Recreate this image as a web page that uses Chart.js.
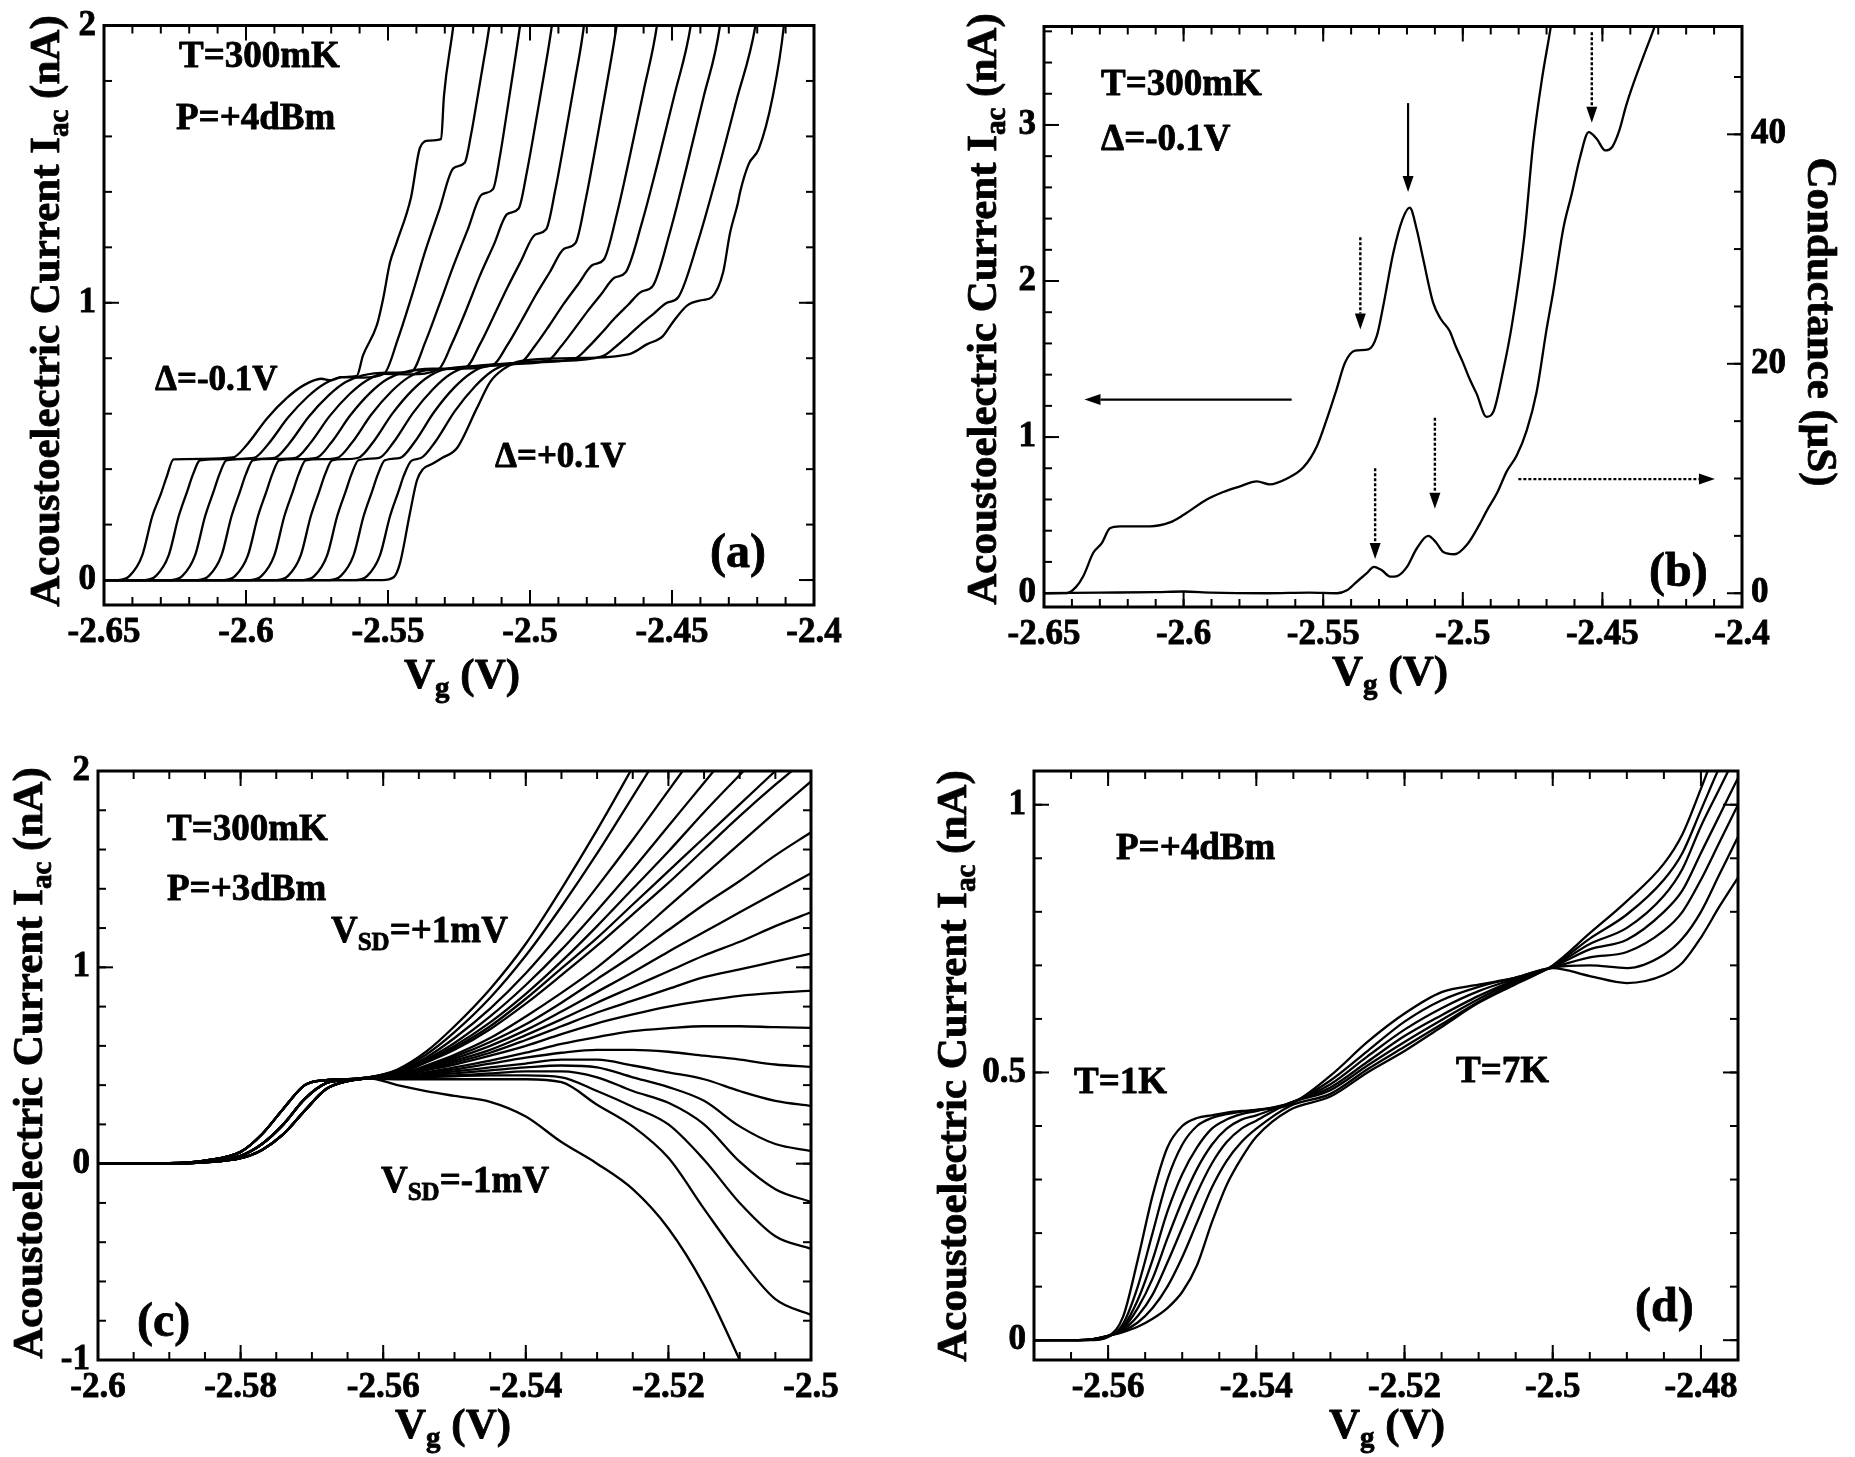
<!DOCTYPE html>
<html><head><meta charset="utf-8">
<script src="https://cdn.jsdelivr.net/npm/chart.js@4/dist/chart.umd.min.js"></script>
<style>
html,body{margin:0;padding:0;background:#fff;}
body{width:1855px;height:1457px;position:relative;overflow:hidden;}
canvas{position:absolute;}
</style></head><body>
<canvas id="ca" width="928" height="728" style="left:0px;top:0px"></canvas>
<canvas id="cb" width="927" height="728" style="left:928px;top:0px"></canvas>
<canvas id="cc" width="928" height="729" style="left:0px;top:728px"></canvas>
<canvas id="cd" width="927" height="729" style="left:928px;top:728px"></canvas>
<script>
// ================= DATA =================
// ---- Panel (a): I_ac vs Vg, 11 curves, Delta = -0.1 V ... +0.1 V
const a_d0 = [[-2.65,0],[-2.645,0],[-2.641,0.015],[-2.6365,0.09],[-2.633,0.23],[-2.630,0.31],[-2.628,0.37],[-2.6255,0.435],[-2.615,0.437],[-2.6046,0.442],[-2.5996,0.489],[-2.5926,0.583],[-2.5856,0.657],[-2.5796,0.703],[-2.5736,0.726],[-2.570,0.720],[-2.5665,0.732],[-2.561,0.736],[-2.5588,0.81],[-2.5539,0.92],[-2.5518,1.01],[-2.5493,1.145],[-2.547,1.216],[-2.5419,1.38],[-2.5387,1.56],[-2.5356,1.585],[-2.5313,1.59],[-2.5303,1.745],[-2.527,2.0],[-2.525,2.2]];
const a_d1 = [[-2.65,0],[-2.6357,0],[-2.6317,0.015],[-2.6272,0.09],[-2.6237,0.23],[-2.6207,0.32],[-2.6187,0.38],[-2.6162,0.432],[-2.607,0.436],[-2.5972,0.441],[-2.5922,0.490],[-2.5852,0.586],[-2.5782,0.662],[-2.5722,0.709],[-2.5662,0.732],[-2.559,0.730],[-2.5514,0.744],[-2.5465,0.870],[-2.5416,1.026],[-2.5368,1.189],[-2.5319,1.337],[-2.527,1.485],[-2.523,1.505],[-2.5208,1.604],[-2.5187,1.728],[-2.5165,1.861],[-2.5143,2.0],[-2.512,2.2]];
const a_d2 = [[-2.65,0],[-2.6264,0],[-2.6224,0.015],[-2.6179,0.09],[-2.6144,0.23],[-2.6114,0.32],[-2.6094,0.38],[-2.6069,0.432],[-2.598,0.437],[-2.5899,0.441],[-2.5849,0.491],[-2.5779,0.589],[-2.5709,0.666],[-2.5649,0.714],[-2.5589,0.738],[-2.550,0.748],[-2.5418,0.752],[-2.5368,0.860],[-2.5319,0.994],[-2.5269,1.135],[-2.522,1.262],[-2.517,1.39],[-2.513,1.41],[-2.5106,1.528],[-2.5083,1.676],[-2.5059,1.835],[-2.5035,2.0],[-2.501,2.2]];
const a_d3 = [[-2.65,0],[-2.6171,0],[-2.6131,0.015],[-2.6086,0.09],[-2.6051,0.23],[-2.6021,0.32],[-2.6001,0.38],[-2.5976,0.432],[-2.590,0.437],[-2.5825,0.441],[-2.5775,0.492],[-2.5705,0.592],[-2.5635,0.671],[-2.5575,0.720],[-2.5515,0.744],[-2.542,0.742],[-2.5322,0.760],[-2.5274,0.855],[-2.5225,0.973],[-2.5177,1.096],[-2.5128,1.208],[-2.508,1.32],[-2.504,1.34],[-2.5011,1.472],[-2.4982,1.637],[-2.4952,1.815],[-2.4923,2.0],[-2.490,2.2]];
const a_d4 = [[-2.65,0],[-2.6078,0],[-2.6038,0.015],[-2.5993,0.09],[-2.5958,0.23],[-2.5928,0.32],[-2.5908,0.38],[-2.5883,0.432],[-2.582,0.436],[-2.5752,0.441],[-2.5702,0.493],[-2.5632,0.595],[-2.5562,0.676],[-2.5502,0.725],[-2.5442,0.750],[-2.534,0.762],[-2.5226,0.768],[-2.5177,0.849],[-2.5129,0.949],[-2.508,1.054],[-2.5032,1.150],[-2.4983,1.245],[-2.4943,1.265],[-2.491,1.412],[-2.4877,1.596],[-2.4843,1.794],[-2.481,2.0],[-2.479,2.2]];
const a_d5 = [[-2.65,0],[-2.5985,0],[-2.5945,0.015],[-2.590,0.09],[-2.5865,0.23],[-2.5835,0.32],[-2.5815,0.38],[-2.579,0.432],[-2.573,0.436],[-2.5678,0.441],[-2.5628,0.494],[-2.5558,0.598],[-2.5488,0.680],[-2.5428,0.731],[-2.5368,0.756],[-2.525,0.762],[-2.513,0.776],[-2.508,0.847],[-2.503,0.935],[-2.498,1.027],[-2.493,1.111],[-2.488,1.195],[-2.484,1.215],[-2.4804,1.372],[-2.4768,1.568],[-2.4731,1.780],[-2.4695,2.0],[-2.467,2.2]];
const a_d6 = [[-2.65,0],[-2.5892,0],[-2.5852,0.015],[-2.5807,0.09],[-2.5772,0.23],[-2.5742,0.32],[-2.5722,0.38],[-2.5697,0.432],[-2.565,0.436],[-2.5604,0.441],[-2.5554,0.495],[-2.5484,0.601],[-2.5414,0.685],[-2.5354,0.736],[-2.5294,0.762],[-2.516,0.772],[-2.5034,0.784],[-2.4983,0.844],[-2.4932,0.918],[-2.4882,0.995],[-2.4831,1.066],[-2.478,1.136],[-2.474,1.156],[-2.4693,1.325],[-2.4647,1.536],[-2.46,1.764],[-2.4553,2.0],[-2.453,2.2]];
const a_d7 = [[-2.65,0],[-2.5799,0],[-2.5759,0.015],[-2.5714,0.09],[-2.5679,0.23],[-2.5649,0.32],[-2.5629,0.38],[-2.5604,0.432],[-2.5531,0.441],[-2.5481,0.496],[-2.5411,0.604],[-2.5341,0.689],[-2.5281,0.742],[-2.5221,0.768],[-2.508,0.778],[-2.4938,0.791],[-2.4891,0.842],[-2.4844,0.905],[-2.4797,0.970],[-2.475,1.030],[-2.4703,1.09],[-2.4663,1.11],[-2.4606,1.288],[-2.4549,1.51],[-2.4491,1.751],[-2.4434,2.0],[-2.441,2.2]];
const a_d8 = [[-2.65,0],[-2.5706,0],[-2.5666,0.015],[-2.5621,0.09],[-2.5586,0.23],[-2.5556,0.32],[-2.5536,0.38],[-2.5511,0.432],[-2.5457,0.441],[-2.5407,0.497],[-2.5337,0.607],[-2.5267,0.694],[-2.5207,0.747],[-2.5147,0.774],[-2.500,0.784],[-2.4842,0.799],[-2.4795,0.840],[-2.4748,0.891],[-2.4702,0.944],[-2.4655,0.992],[-2.4608,1.04],[-2.4568,1.06],[-2.4509,1.248],[-2.445,1.483],[-2.439,1.737],[-2.4331,2.0],[-2.431,2.2]];
const a_d9 = [[-2.65,0],[-2.5613,0],[-2.5573,0.015],[-2.5528,0.09],[-2.5493,0.23],[-2.5463,0.32],[-2.5443,0.38],[-2.5418,0.43],[-2.5384,0.44],[-2.5334,0.498],[-2.5264,0.610],[-2.5194,0.698],[-2.5134,0.753],[-2.5074,0.780],[-2.491,0.790],[-2.4746,0.807],[-2.470,0.840],[-2.4655,0.880],[-2.4609,0.923],[-2.4564,0.961],[-2.4518,1.0],[-2.4478,1.02],[-2.441,1.216],[-2.4342,1.461],[-2.4274,1.726],[-2.4206,2.0],[-2.418,2.2]];
const a_d10 = [[-2.65,0],[-2.552,0],[-2.548,0.01],[-2.5458,0.06],[-2.5423,0.24],[-2.5398,0.36],[-2.5377,0.40],[-2.5342,0.42],[-2.531,0.44],[-2.5257,0.476],[-2.5187,0.62],[-2.514,0.715],[-2.5095,0.76],[-2.503,0.79],[-2.485,0.80],[-2.465,0.815],[-2.4589,0.85],[-2.4532,0.88],[-2.4497,0.93],[-2.4447,0.99],[-2.4391,1.01],[-2.436,1.02],[-2.432,1.11],[-2.4296,1.25],[-2.4268,1.36],[-2.426,1.40],[-2.423,1.50],[-2.4194,1.556],[-2.4146,1.74],[-2.4106,2.0],[-2.409,2.2]];
const panelA_curves = [a_d0,a_d1,a_d2,a_d3,a_d4,a_d5,a_d6,a_d7,a_d8,a_d9,a_d10];
const panelA_xTicks = [-2.65,-2.6,-2.55,-2.5,-2.45,-2.4];
const panelA_yTicks = [0,1,2];

// ---- Panel (b): acoustoelectric current (nA, left axis) and conductance (uS, right axis)
const b_current = [[-2.65,0.0],[-2.6419,0.0],[-2.6385,0.04],[-2.6359,0.11],[-2.6323,0.26],[-2.6293,0.32],[-2.6264,0.416],[-2.6228,0.428],[-2.612,0.428],[-2.6049,0.453],[-2.6001,0.50],[-2.5917,0.60],[-2.5858,0.648],[-2.5798,0.684],[-2.5738,0.716],[-2.5691,0.697],[-2.5631,0.733],[-2.5571,0.806],[-2.5523,0.94],[-2.5488,1.11],[-2.5452,1.306],[-2.5422,1.476],[-2.5386,1.554],[-2.5338,1.562],[-2.5308,1.648],[-2.5285,1.84],[-2.5249,2.18],[-2.5215,2.40],[-2.519,2.47],[-2.5165,2.33],[-2.5143,2.15],[-2.5106,1.86],[-2.508,1.76],[-2.5047,1.68],[-2.5025,1.58],[-2.5,1.48],[-2.4975,1.37],[-2.4951,1.28],[-2.4915,1.13],[-2.4891,1.16],[-2.4856,1.42],[-2.4823,1.73],[-2.478,2.28],[-2.4748,2.88],[-2.4716,3.3],[-2.4684,3.64],[-2.466,3.95]];
const b_conductance = [[-2.65,0.0],[-2.63,0.05],[-2.61,0.1],[-2.6,0.15],[-2.59,0.05],[-2.57,0.0],[-2.555,0.05],[-2.545,0.0],[-2.5415,0.25],[-2.538,1.0],[-2.5346,1.7],[-2.5318,2.3],[-2.529,2.0],[-2.526,1.45],[-2.5235,1.5],[-2.52,2.3],[-2.5165,3.9],[-2.5124,5.0],[-2.5095,4.4],[-2.507,3.6],[-2.503,3.4],[-2.4983,4.3],[-2.494,6.0],[-2.4914,7.2],[-2.4876,8.8],[-2.4843,10.6],[-2.4807,12.0],[-2.4771,14.2],[-2.4736,17.5],[-2.47,23.0],[-2.4676,26.3],[-2.464,31.8],[-2.461,34.8],[-2.458,38.0],[-2.4549,40.2],[-2.452,39.6],[-2.449,38.6],[-2.4465,38.9],[-2.444,40.3],[-2.4415,42.5],[-2.4395,44.0],[-2.4353,46.8],[-2.431,49.6],[-2.428,52]];
const panelB_yTicks = [0,1,2,3];
const panelB_y2Ticks = [0,20,40];
// arrows: [x0, y0, x1, y1, dotted]  (first set in nA, second set in uS)
const panelB_arrowsCurrent = [[-2.5613,1.24,-2.6355,1.24,0],[-2.5196,3.14,-2.5196,2.57,0],[-2.5367,2.28,-2.5367,1.69,1]];
const panelB_arrowsCond = [[-2.4801,9.95,-2.4097,9.95,1],[-2.4538,48.9,-2.4538,41.0,1],[-2.51,15.3,-2.51,7.36,1],[-2.5314,10.9,-2.5314,2.98,1]];

// ---- Panel (c): 21 curves, V_SD = +1 mV ... -1 mV
const panelC_x = [-2.6,-2.59,-2.585,-2.58,-2.577,-2.574,-2.571,-2.568,-2.565,-2.562,-2.558,-2.554,-2.55,-2.545,-2.54,-2.535,-2.53,-2.525,-2.52,-2.515,-2.51,-2.505,-2.5];
const c_v0  = [0,0.002,0.015,0.06,0.15,0.28,0.40,0.425,0.43,0.44, 0.48,0.57,0.70,0.89,1.12,1.40,1.70,2.02,2.35,2.7,3.0,3.3,3.6];
const c_v1  = [0,0.002,0.015,0.06,0.15,0.28,0.40,0.425,0.43,0.44, 0.475,0.555,0.67,0.845,1.06,1.31,1.58,1.87,2.16,2.45,2.75,3.0,3.3];
const c_v2  = [0,0.002,0.015,0.06,0.15,0.28,0.40,0.425,0.43,0.44, 0.47,0.54,0.64,0.79,0.97,1.18,1.41,1.65,1.90,2.15,2.4,2.65,2.9];
const c_v3  = [0,0.002,0.015,0.06,0.15,0.28,0.40,0.425,0.43,0.44, 0.46,0.53,0.615,0.75,0.91,1.09,1.29,1.50,1.72,1.94,2.16,2.37,2.58];
const c_v4  = [0,0.002,0.015,0.06,0.15,0.28,0.40,0.425,0.43,0.44, 0.46,0.525,0.60,0.72,0.865,1.03,1.21,1.40,1.59,1.79,1.98,2.17,2.36];
const c_v5  = [0,0.002,0.015,0.06,0.15,0.28,0.40,0.425,0.43,0.44, 0.455,0.52,0.59,0.70,0.84,0.995,1.15,1.32,1.49,1.66,1.83,2.0,2.17];
const c_v6  = [0,0.002,0.015,0.06,0.15,0.28,0.40,0.425,0.43,0.44, 0.455,0.515,0.58,0.685,0.815,0.96,1.11,1.27,1.43,1.60,1.77,1.93,2.08];
const c_v7  = [0,0.001,0.01,0.04,0.10,0.20,0.33,0.41,0.425,0.435, 0.45,0.50,0.555,0.64,0.75,0.87,1.00,1.15,1.31,1.47,1.63,1.79,1.947];
const c_v8  = [0,0.001,0.01,0.04,0.10,0.20,0.33,0.41,0.425,0.435, 0.45,0.495,0.545,0.62,0.71,0.82,0.94,1.06,1.19,1.32,1.44,1.57,1.688];
const c_v9  = [0,0.001,0.01,0.04,0.10,0.20,0.33,0.41,0.425,0.435, 0.45,0.49,0.535,0.60,0.68,0.775,0.875,0.975,1.08,1.18,1.28,1.38,1.479];
const c_v10 = [0,0.001,0.01,0.04,0.10,0.20,0.33,0.41,0.425,0.435, 0.445,0.485,0.525,0.58,0.655,0.735,0.82,0.90,0.98,1.06,1.13,1.21,1.28];
const c_v11 = [0,0.001,0.01,0.04,0.10,0.20,0.33,0.41,0.425,0.435, 0.445,0.48,0.515,0.565,0.63,0.70,0.77,0.83,0.89,0.95,0.99,1.03,1.07];
const c_v12 = [0,0.001,0.01,0.04,0.10,0.20,0.33,0.41,0.425,0.435, 0.445,0.475,0.505,0.55,0.60,0.66,0.715,0.76,0.80,0.83,0.855,0.87,0.881];
const c_v13 = [0,0.001,0.01,0.04,0.10,0.20,0.33,0.41,0.425,0.435, 0.44,0.465,0.49,0.525,0.565,0.61,0.645,0.675,0.69,0.70,0.70,0.695,0.692];
const c_v14 = [0,0,0.007,0.028,0.07,0.15,0.27,0.38,0.42,0.435, 0.44,0.46,0.48,0.51,0.54,0.565,0.58,0.58,0.57,0.55,0.53,0.505,0.493];
const c_v15 = [0,0,0.007,0.028,0.07,0.15,0.27,0.38,0.42,0.435, 0.44,0.455,0.47,0.49,0.51,0.53,0.53,0.50,0.465,0.43,0.37,0.32,0.294];
const c_v16 = [0,0,0.007,0.028,0.07,0.15,0.27,0.38,0.42,0.435, 0.44,0.45,0.46,0.475,0.49,0.50,0.49,0.44,0.39,0.32,0.19,0.10,0.065];
const c_v17 = [0,0,0.007,0.028,0.07,0.15,0.27,0.38,0.42,0.435, 0.44,0.445,0.45,0.46,0.47,0.47,0.44,0.37,0.31,0.20,0.01,-0.13,-0.195];
const c_v18 = [0,0,0.007,0.028,0.07,0.15,0.27,0.38,0.42,0.435, 0.435,0.44,0.445,0.45,0.45,0.44,0.37,0.29,0.20,0.02,-0.20,-0.37,-0.434];
const c_v19 = [0,0,0.007,0.028,0.07,0.15,0.27,0.38,0.42,0.435, 0.43,0.43,0.43,0.43,0.43,0.415,0.30,0.19,0.03,-0.23,-0.48,-0.69,-0.77];
const c_v20 = [0,0,0.007,0.028,0.07,0.15,0.27,0.38,0.42,0.435, 0.40,0.37,0.345,0.315,0.24,0.11,0.0,-0.13,-0.33,-0.62,-1.0,-1.4,-1.8];
const panelC_curves = [c_v0,c_v1,c_v2,c_v3,c_v4,c_v5,c_v6,c_v7,c_v8,c_v9,c_v10,c_v11,c_v12,c_v13,c_v14,c_v15,c_v16,c_v17,c_v18,c_v19,c_v20];
const panelC_xTicks = [-2.6,-2.58,-2.56,-2.54,-2.52,-2.5];
const panelC_yTicks = [-1,0,1,2];

// ---- Panel (d): 7 curves, T = 1 K ... 7 K
const panelD_x = [-2.57,-2.564,-2.562,-2.56,-2.558,-2.556,-2.554,-2.552,-2.55,-2.548,-2.546,-2.544,-2.542,-2.54,-2.5355,-2.53,-2.525,-2.52,-2.515,-2.51,-2.505,-2.5,-2.495,-2.49,-2.485,-2.4825,-2.48,-2.4775,-2.475];
const d_T1 = [0,0,0,0.007,0.043,0.15,0.27,0.36,0.40,0.415,0.42,0.425,0.428,0.43,0.44,0.494,0.557,0.61,0.65,0.664,0.677,0.695,0.68,0.667,0.682,0.705,0.752,0.81,0.864];
const d_T2 = [0,0,0.001,0.006,0.03,0.10,0.20,0.30,0.365,0.40,0.415,0.422,0.427,0.43,0.442,0.485,0.54,0.595,0.635,0.66,0.677,0.696,0.70,0.695,0.72,0.75,0.80,0.87,0.94];
const d_T3 = [0,0,0.002,0.007,0.025,0.075,0.15,0.24,0.31,0.36,0.395,0.412,0.422,0.428,0.443,0.478,0.53,0.58,0.62,0.652,0.675,0.696,0.715,0.725,0.765,0.80,0.86,0.93,1.00];
const d_T4 = [0,0,0.002,0.008,0.022,0.06,0.115,0.19,0.26,0.32,0.365,0.395,0.412,0.42,0.443,0.472,0.52,0.568,0.607,0.643,0.673,0.697,0.73,0.748,0.80,0.84,0.91,0.98,1.05];
const d_T5 = [0,0,0.002,0.008,0.019,0.045,0.085,0.145,0.21,0.275,0.33,0.37,0.395,0.41,0.443,0.467,0.513,0.557,0.598,0.637,0.671,0.698,0.74,0.77,0.83,0.88,0.96,1.03,1.10];
const d_T6 = [0,0,0.002,0.008,0.017,0.033,0.06,0.10,0.155,0.22,0.285,0.335,0.37,0.395,0.437,0.46,0.506,0.548,0.59,0.632,0.668,0.699,0.75,0.795,0.86,0.91,0.99,1.07,1.14];
const d_T7 = [0,0,0.002,0.008,0.015,0.025,0.04,0.06,0.09,0.14,0.22,0.29,0.34,0.38,0.43,0.455,0.50,0.54,0.585,0.63,0.665,0.70,0.76,0.82,0.89,0.945,1.03,1.12,1.2];
const panelD_curves = [d_T1,d_T2,d_T3,d_T4,d_T5,d_T6,d_T7];
const panelD_xTicks = [-2.56,-2.54,-2.52,-2.5,-2.48];
const panelD_yTicks = [0,0.5,1];

// ================= RENDERING =================
const SERIF = "'Liberation Serif','Times New Roman',Times,serif";
Chart.defaults.font.family = SERIF;
Chart.defaults.font.weight = 'bold';
Chart.defaults.color = '#000';
Chart.defaults.animation = false;

const TICK_FONT = 35, TITLE_FONT = 43, ANN_FONT = 37, LBL_FONT = 48;
const MAJ = 15, MIN = 8, TXT_STROKE = 0.8;

function fnt(px){ return 'bold ' + px + 'px ' + SERIF; }
function range(start, step, n){ const r=[]; for(let k=0;k<n;k++) r.push(+(start+k*step).toFixed(6)); return r; }
function xyData(arr){ return arr.map(p=>({x:p[0], y:p[1]})); }
function gridData(xs, ys){ return xs.map((x,i)=>({x:x, y:ys[i]})); }
function ds(data, extra){
  return Object.assign({data:data, borderColor:'#000', borderWidth:2.3, pointRadius:0, fill:false,
    cubicInterpolationMode:'monotone', tension:0.4}, extra||{});
}
function scale(pos, min, max, ticks, size, pad){
  return {
    type:'linear', position:pos, min:min, max:max,
    grid:{display:false, drawTicks:false}, border:{display:false},
    ticks:{font:{size:TICK_FONT, weight:'bold', family:SERIF, lineHeight:1}, color:'#000', padding:pad,
      textStrokeColor:'#000', textStrokeWidth:TXT_STROKE,
      autoSkip:false, maxRotation:0, minRotation:0, callback:(v)=>String(v)},
    afterBuildTicks:(s)=>{ s.ticks = ticks.map(v=>({value:v})); },
    afterFit:(s)=>{ if(pos==='left'||pos==='right') s.width = size; else s.height = size; }
  };
}
function rich(ctx, parts, x, y, size, align, rot){
  ctx.save();
  ctx.translate(x, y);
  if (rot) ctx.rotate(rot);
  const sub = Math.round(size*0.68);
  let total = 0;
  for (const p of parts){ ctx.font = fnt(p[1]?sub:size); total += ctx.measureText(p[0]).width; }
  let cx = align==='center' ? -total/2 : 0;
  ctx.textBaseline = 'alphabetic'; ctx.textAlign = 'left';
  ctx.fillStyle = '#000'; ctx.strokeStyle = '#000'; ctx.lineWidth = TXT_STROKE; ctx.lineJoin = 'round';
  for (const p of parts){
    ctx.font = fnt(p[1]?sub:size);
    const yy = p[1] ? size*0.33 + size*0.2 : size*0.33;
    ctx.fillText(p[0], cx, yy);
    ctx.strokeText(p[0], cx, yy);
    cx += ctx.measureText(p[0]).width;
  }
  ctx.restore();
}
function arrow(ctx, x0, y0, x1, y1, dotted){
  const ang = Math.atan2(y1-y0, x1-x0), L = 16, W = 5.5;
  const bx = x1 - L*Math.cos(ang), by = y1 - L*Math.sin(ang);
  ctx.save();
  ctx.lineWidth = dotted ? 2.4 : 2.2;
  ctx.setLineDash(dotted ? [3,2] : []);
  ctx.beginPath(); ctx.moveTo(x0,y0); ctx.lineTo(bx,by); ctx.stroke();
  ctx.setLineDash([]);
  ctx.beginPath();
  ctx.moveTo(x1,y1);
  ctx.lineTo(bx + W*Math.sin(ang), by - W*Math.cos(ang));
  ctx.lineTo(bx - W*Math.sin(ang), by + W*Math.cos(ang));
  ctx.closePath(); ctx.fill();
  ctx.restore();
}

function panelPlugin(cfg){
  return {
    id:'panel_'+cfg.name,
    afterDraw(chart){
      const ctx = chart.ctx, a = chart.chartArea, S = chart.scales;
      const ox = cfg.ox, oy = cfg.oy;
      ctx.save();
      ctx.strokeStyle = '#000'; ctx.fillStyle = '#000';
      ctx.lineWidth = 2; ctx.lineCap = 'butt';
      const line = (x1,y1,x2,y2)=>{ ctx.beginPath(); ctx.moveTo(x1,y1); ctx.lineTo(x2,y2); ctx.stroke(); };
      const xt = (vals, len)=>vals.forEach(v=>{ const p = S.x.getPixelForValue(v); if(p<a.left-0.5||p>a.right+0.5) return; line(p,a.bottom,p,a.bottom-len); line(p,a.top,p,a.top+len); });
      const yt = (sc, vals, len, side)=>vals.forEach(v=>{ const p = sc.getPixelForValue(v); if(p<a.top-0.5||p>a.bottom+0.5) return;
        if(side!=='right') line(a.left,p,a.left+len,p);
        if(side!=='left') line(a.right,p,a.right-len,p); });
      xt(cfg.xMinor, MIN); xt(cfg.xMajor, MAJ);
      yt(S.y, cfg.yMinor, MIN, cfg.y2 ? 'left' : 'both'); yt(S.y, cfg.yMajor, MAJ, cfg.y2 ? 'left' : 'both');
      if (cfg.y2){ yt(S.y2, cfg.y2Minor, MIN, 'right'); yt(S.y2, cfg.y2Major, MAJ, 'right'); }
      ctx.lineWidth = 3;
      ctx.strokeRect(a.left, a.top, a.right-a.left, a.bottom-a.top);
      if (cfg.arrows){
        cfg.arrows.forEach(ar=>{
          const sc = S[ar.axis];
          ar.list.forEach(r=>arrow(ctx, S.x.getPixelForValue(r[0]), sc.getPixelForValue(r[1]), S.x.getPixelForValue(r[2]), sc.getPixelForValue(r[3]), r[4]));
        });
      }
      cfg.texts.forEach(t=>rich(ctx, t.parts, t.x-ox, t.y-oy, t.size, 'left', 0));
      const yTitle = [['Acoustoelectric Current I',0],['ac',1],[' (nA)',0]];
      rich(ctx, yTitle, cfg.yTitle[0]-ox, cfg.yTitle[1]-oy, TITLE_FONT, 'center', -Math.PI/2);
      rich(ctx, [['V',0],['g',1],[' (V)',0]], cfg.xTitle[0]-ox, cfg.xTitle[1]-oy, TITLE_FONT, 'center', 0);
      if (cfg.y2Title) rich(ctx, [['Conductance (\u03bcS)',0]], cfg.y2Title[0]-ox, cfg.y2Title[1]-oy, TITLE_FONT, 'center', Math.PI/2);
      ctx.restore();
    }
  };
}
function baseOpts(pad, scales){
  return {responsive:false, animation:false, events:[], layout:{padding:pad},
    plugins:{legend:{display:false}, tooltip:{enabled:false}}, scales:scales};
}
const T = (s)=>[[s,0]];

// ---- (a)
new Chart(document.getElementById('ca'), {
  type:'line',
  data:{datasets: panelA_curves.map(c=>ds(xyData(c)))},
  options: baseOpts({left:0, right:114, top:21, bottom:0}, {
    x: scale('bottom', -2.65, -2.4, panelA_xTicks, 123, 10),
    y: scale('left', -0.09, 2, panelA_yTicks, 104, 8)
  }),
  plugins:[panelPlugin({name:'a', ox:0, oy:0,
    xMajor:panelA_xTicks, xMinor:range(-2.65,0.01,26), yMajor:panelA_yTicks, yMinor:range(0,0.2,11),
    yTitle:[45,311], xTitle:[462,674],
    texts:[{parts:T('T=300mK'),x:179,y:55,size:ANN_FONT},{parts:T('P=+4dBm'),x:176,y:117,size:ANN_FONT},
      {parts:T('\u0394=-0.1V'),x:155,y:378,size:35},{parts:T('\u0394=+0.1V'),x:495,y:455,size:35},
      {parts:T('(a)'),x:710,y:551,size:LBL_FONT}]})]
});

// ---- (b)
new Chart(document.getElementById('cb'), {
  type:'line',
  data:{datasets:[ds(xyData(b_current),{yAxisID:'y'}), ds(xyData(b_conductance),{yAxisID:'y2'})]},
  options: baseOpts({left:0, right:0, top:20, bottom:0}, {
    x: scale('bottom', -2.65, -2.4, panelA_xTicks, 121, 10),
    y: scale('left', -0.089, 3.631, panelB_yTicks, 116, 8),
    y2: scale('right', -1.2, 49.4, panelB_y2Ticks, 113, 9)
  }),
  plugins:[panelPlugin({name:'b', ox:928, oy:0, y2:true,
    xMajor:panelA_xTicks, xMinor:range(-2.65,0.01,26), yMajor:panelB_yTicks, yMinor:range(0,0.2,19),
    y2Major:panelB_y2Ticks, y2Minor:range(0,5,10),
    yTitle:[982,309], xTitle:[1390,671], y2Title:[1822,322],
    arrows:[{axis:'y', list:panelB_arrowsCurrent},{axis:'y2', list:panelB_arrowsCond}],
    texts:[{parts:T('T=300mK'),x:1101,y:83,size:ANN_FONT},{parts:T('\u0394=-0.1V'),x:1101,y:138,size:ANN_FONT},
      {parts:T('(b)'),x:1649,y:570,size:LBL_FONT}]})]
});

// ---- (c)
new Chart(document.getElementById('cc'), {
  type:'line',
  data:{datasets: panelC_curves.map(c=>ds(gridData(panelC_x, c)))},
  options: baseOpts({left:0, right:117, top:43, bottom:0}, {
    x: scale('bottom', -2.6, -2.5, panelC_xTicks, 97, 10),
    y: scale('left', -1, 2, panelC_yTicks, 98, 8)
  }),
  plugins:[panelPlugin({name:'c', ox:0, oy:728,
    xMajor:panelC_xTicks, xMinor:range(-2.6,0.005,21), yMajor:panelC_yTicks, yMinor:range(-1,0.2,16),
    yTitle:[28,1063], xTitle:[453,1424],
    texts:[{parts:T('T=300mK'),x:167,y:828,size:ANN_FONT},{parts:T('P=+3dBm'),x:167,y:888,size:ANN_FONT},
      {parts:[['V',0],['SD',1],['=+1mV',0]],x:331,y:930,size:ANN_FONT},
      {parts:[['V',0],['SD',1],['=-1mV',0]],x:381,y:1180,size:ANN_FONT},
      {parts:T('(c)'),x:137,y:1320,size:LBL_FONT}]})]
});

// ---- (d)
new Chart(document.getElementById('cd'), {
  type:'line',
  data:{datasets: panelD_curves.map(c=>ds(gridData(panelD_x, c)))},
  options: baseOpts({left:0, right:117, top:43, bottom:0}, {
    x: scale('bottom', -2.57, -2.475, panelD_xTicks, 97, 10),
    y: scale('left', -0.037, 1.063, panelD_yTicks, 106, 8)
  }),
  plugins:[panelPlugin({name:'d', ox:928, oy:728,
    xMajor:panelD_xTicks, xMinor:range(-2.57,0.005,20), yMajor:panelD_yTicks, yMinor:range(0,0.1,11),
    yTitle:[952,1066], xTitle:[1387,1424],
    texts:[{parts:T('P=+4dBm'),x:1116,y:847,size:ANN_FONT},{parts:T('T=1K'),x:1074,y:1081,size:ANN_FONT},
      {parts:T('T=7K'),x:1456,y:1070,size:ANN_FONT},{parts:T('(d)'),x:1635,y:1305,size:LBL_FONT}]})]
});
</script>
</body></html>
